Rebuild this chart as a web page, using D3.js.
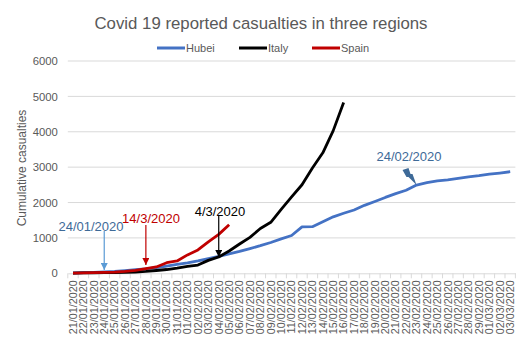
<!DOCTYPE html>
<html><head><meta charset="utf-8">
<script src="https://cdn.jsdelivr.net/npm/d3@7"></script>
<style>
body{margin:0;background:#fff;}
text{font-family:"Liberation Sans",Arial,sans-serif;}
</style></head>
<body><svg id="c" width="528" height="358"></svg>
<script>
const dates = ["21/01/2020","22/01/2020","23/01/2020","24/01/2020","25/01/2020","26/01/2020","27/01/2020","28/01/2020","29/01/2020","30/01/2020","31/01/2020","01/02/2020","02/02/2020","03/02/2020","04/02/2020","05/02/2020","06/02/2020","07/02/2020","08/02/2020","09/02/2020","10/02/2020","11/02/2020","12/02/2020","13/02/2020","14/02/2020","15/02/2020","16/02/2020","17/02/2020","18/02/2020","19/02/2020","20/02/2020","21/02/2020","22/02/2020","23/02/2020","24/02/2020","25/02/2020","26/02/2020","27/02/2020","28/02/2020","29/02/2020","01/03/2020","02/03/2020","03/03/2020"];
const hubei = [9,17,24,39,52,76,100,125,162,204,249,294,350,414,479,549,618,699,780,871,974,1068,1310,1318,1457,1596,1696,1789,1921,2029,2144,2250,2346,2495,2563,2615,2641,2682,2727,2761,2803,2834,2871];
const italy = [7,10,12,17,21,29,34,52,79,107,148,197,233,366,463,631,827,1016,1266,1441,1809,2158,2503,2978,3405,4032,4825];
const spain = [5,10,17,28,35,54,84,133,180,300,350,520,660,890,1100,1375];
const yTicks = [0,1000,2000,3000,4000,5000,6000];
const seriesNames = ["Hubei","Italy","Spain"];
const seriesColors = ["#4472C4","#000000","#C00000"];
const annotations = [
  {text:"24/01/2020", date:"24/01/2020", color:"#3E6A98", arrow:"#5B9BD5"},
  {text:"14/3/2020", date:"28/01/2020", color:"#C00000", arrow:"#C00000"},
  {text:"4/3/2020", date:"04/02/2020", color:"#000000", arrow:"#000000"}
];

const svg = d3.select("#c");
const x = d3.scaleBand().domain(dates).range([67.8, 515.4]);
const y = d3.scaleLinear().domain([0,6000]).range([273.3, 61]);
const cx = d => x(d) + x.bandwidth()/2;

// title
svg.append("text").attr("x",261).attr("y",29).attr("text-anchor","middle")
  .attr("font-size","16.8px").attr("fill","#595959")
  .text("Covid 19 reported casualties in three regions");

// gridlines
svg.append("g").selectAll("line").data(yTicks.filter(t=>t>0)).join("line")
  .attr("x1",67.8).attr("x2",515.4).attr("y1",d=>y(d)).attr("y2",d=>y(d))
  .attr("stroke","#D9D9D9").attr("stroke-width",1);

// y axis labels
const ya = svg.append("g").attr("transform","translate(67.8,0)")
  .call(d3.axisLeft(y).tickValues(yTicks).tickSize(0).tickPadding(10).tickFormat(d3.format("d")));
ya.select(".domain").remove();
ya.selectAll("text").attr("font-size","11.3px").attr("fill","#595959").style("font-family","Liberation Sans, Arial, sans-serif");

// x axis
const xa = svg.append("g").attr("transform",`translate(0,${y(0)})`)
  .call(d3.axisBottom(x).tickSize(0).tickPadding(0));
xa.select(".domain").attr("stroke","#D9D9D9").attr("stroke-width",1);
xa.selectAll("text").attr("font-size","10.8px").attr("fill","#595959")
  .style("font-family","Liberation Sans, Arial, sans-serif")
  .attr("text-anchor","end").attr("dy","0.35em")
  .attr("transform","translate(0,7) rotate(-90)");
// boundary tick marks
svg.append("g").selectAll("line").data(dates.concat([null])).join("line")
  .attr("x1",(d,i)=>67.8+i*x.step()).attr("x2",(d,i)=>67.8+i*x.step())
  .attr("y1",y(0)).attr("y2",y(0)+5).attr("stroke","#D9D9D9");

// y title
svg.append("text").attr("transform","translate(26,168) rotate(-90)")
  .attr("text-anchor","middle").attr("font-size","12px").attr("fill","#595959")
  .text("Cumulative casualties");

// lines
const line = d3.line().x((d,i)=>cx(dates[i])).y(d=>y(d));
[hubei, italy, spain].forEach((s,k)=>{
  svg.append("path").datum(s).attr("d",line).attr("fill","none")
    .attr("stroke",seriesColors[k]).attr("stroke-width",2.8).attr("stroke-linejoin","round");
});

// legend
const legX = [157,239,312];
seriesNames.forEach((n,k)=>{
  svg.append("line").attr("x1",legX[k]).attr("x2",legX[k]+28).attr("y1",48).attr("y2",48)
    .attr("stroke",seriesColors[k]).attr("stroke-width",3);
  svg.append("text").attr("x",legX[k]+29).attr("y",52).attr("font-size","11px").attr("fill","#595959").text(n);
});

// arrow markers
const defs = svg.append("defs");
annotations.forEach((a,k)=>{
  defs.append("marker").attr("id","m"+k).attr("viewBox","0 0 10 10").attr("refX",10).attr("refY",5)
    .attr("markerWidth",8).attr("markerHeight",7).attr("markerUnits","userSpaceOnUse").attr("orient","auto")
    .append("path").attr("d","M0,0L10,5L0,10Z").attr("fill",a.arrow);
});
const annTextY = [227, 219, 212];
const arrowTop = [231, 225, 215];
const arrowTip = [270, 265, 257];
annotations.forEach((a,k)=>{
  const ax = cx(a.date);
  const tx = [91, 151, 220][k];
  svg.append("text").attr("x",tx).attr("y",annTextY[k]+4).attr("text-anchor","middle")
    .attr("font-size","13px").attr("fill",a.color).text(a.text);
  svg.append("line").attr("x1",ax).attr("x2",ax).attr("y1",arrowTop[k]).attr("y2",arrowTip[k])
    .attr("stroke",a.arrow).attr("stroke-width",1.2).attr("marker-end",`url(#m${k})`);
});

// 24/02 callout with lightning arrow
svg.append("text").attr("x",409).attr("y",161).attr("text-anchor","middle")
  .attr("font-size","13px").attr("fill","#3E6A98").text("24/02/2020");
const bx = cx("23/02/2020"), by = y(2495);
svg.append("path").attr("d",
  `M${bx-14},${by-15} L${bx-8},${by-17} L${bx-6},${by-11} L${bx-4},${by-11} L${bx},${by} L${bx-8},${by-8} L${bx-10},${by-8} Z`)
  .attr("fill","#3E6A98");
</script></body></html>
